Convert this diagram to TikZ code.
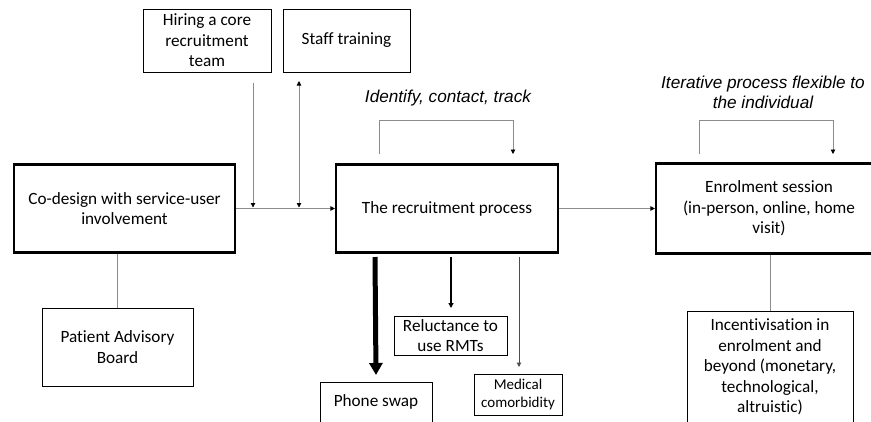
\documentclass[tikz,border=0pt]{standalone}
\usepackage{fontspec}
\setmainfont{Carlito}[Ligatures={NoCommon}]
\newfontfamily\notefont{Liberation Sans}
\usetikzlibrary{arrows.meta}
\definecolor{linegray}{HTML}{8C8C8C}
\begin{document}
\begin{tikzpicture}[x=1pt,y=-1pt,
  boxtext/.style={align=center,inner sep=0pt,font=\fontsize{17.2}{20.5}\selectfont},
  mainbox/.style={boxtext,draw,line width=2.2pt},
  smallbox/.style={boxtext,draw,line width=1pt},
  note/.style={align=center,inner sep=0pt,font=\notefont\itshape\fontsize{17.2}{20.5}\selectfont},
  tip/.style={-{Triangle[length=4.5pt,width=4.5pt,color=black]}},
  grayarrow/.style={tip,draw=linegray,line width=0.9pt},
  grayboth/.style={{Triangle[length=4.5pt,width=4.5pt,color=black]}-{Triangle[length=4.5pt,width=4.5pt,color=black]},draw=linegray,line width=0.9pt},
  grayline/.style={draw=linegray,line width=0.9pt},
  heavyarrow/.style={-{Triangle[length=12pt,width=13pt]},line width=5pt},
  midarrow/.style={-{Triangle[length=5pt,width=5pt]},line width=2pt},
  lightarrow/.style={-{Triangle[length=4.5pt,width=4.5pt]},draw=black!70,line width=1pt}]
\useasboundingbox (0,0) rectangle (871,421);

% main stages
\node[mainbox,minimum width=221pt,minimum height=88pt] (codesign) at (124.5,208.5)
  {Co-design with service-user\\involvement};
\node[mainbox,minimum width=222pt,minimum height=88pt] (recruit) at (447,208.5)
  {The recruitment process};
\node[mainbox,minimum width=226pt,minimum height=90pt] (enrol) at (769,208.5)
  {Enrolment session\\(in-person, online, home\\visit)};

% supporting boxes
\node[smallbox,minimum width=128pt,minimum height=63pt] (hire) at (207,40.5)
  {Hiring a core\\recruitment\\team};
\node[smallbox,minimum width=127pt,minimum height=63pt] (staff) at (346.5,40.5)
  {Staff training};
\node[smallbox,minimum width=151pt,minimum height=78pt] (pab) at (117.5,347)
  {Patient Advisory\\Board};
\node[smallbox,minimum width=112pt,minimum height=40pt] (phone) at (376,402)
  {Phone swap};
\node[smallbox,minimum width=113pt,minimum height=39pt] (reluct) at (450.5,335.5)
  {Reluctance to\\use RMTs};
\node[smallbox,minimum width=88pt,minimum height=41pt,
  font=\fontsize{15}{18}\selectfont] (medical) at (518,394.5)
  {Medical\\comorbidity};
\node[smallbox,minimum width=166pt,minimum height=112pt] (incent) at (770,367)
  {Incentivisation in\\enrolment and\\beyond (monetary,\\technological,\\altruistic)};

% annotations
\node[note] (idnote) at (448,98) {Identify, contact, track};
\node[note] (iternote) at (763,92.5) {Iterative process flexible to\\the individual};

% free ends of the feeder arrows and loops
\coordinate (hireOut) at (253,83);
\coordinate (hireIn) at (253,207.5);
\coordinate (staffOut) at (299,81);
\coordinate (staffIn) at (299,207.5);
\coordinate (idStart) at (379,154);
\coordinate (idCorner) at (513,120);
\coordinate (idEnd) at (513,154);
\coordinate (itStart) at (699,154);
\coordinate (itCorner) at (833,120);
\coordinate (itEnd) at (833,154);
\coordinate (phoneOut) at (375,257);
\coordinate (reluctOut) at (451,257);
\coordinate (reluctIn) at (451,308);
\coordinate (medOut) at (519,257);
\coordinate (medIn) at (519,367);

% flow between stages
\draw[grayarrow] (codesign.east) -- (recruit.west);
\draw[grayarrow] (recruit.east) -- (enrol.west);
\draw[grayarrow] (hireOut) -- (hireIn);
\draw[grayboth] (staffOut) -- (staffIn);

% feedback loops
\draw[grayarrow] (idStart) |- (idCorner) -- (idEnd);
\draw[grayarrow] (itStart) |- (itCorner) -- (itEnd);

% links to support boxes
\draw[grayline] (codesign.south -| pab.north) -- (pab.north);
\draw[grayline] (enrol.south -| incent.north) -- (incent.north);

% barriers
\draw[heavyarrow] (phoneOut) -- (phone.north |- 0,375);
\draw[midarrow] (reluctOut) -- (reluctIn);
\draw[lightarrow] (medOut) -- (medIn);
\end{tikzpicture}
\end{document}
